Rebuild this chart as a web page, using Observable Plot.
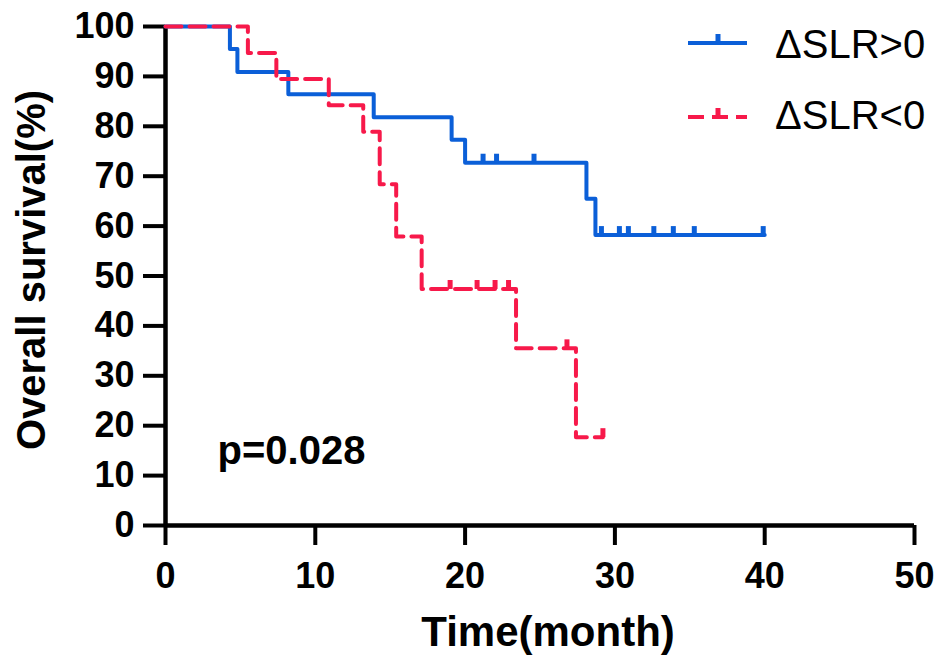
<!DOCTYPE html>
<html>
<head>
<meta charset="utf-8">
<script src="https://cdn.jsdelivr.net/npm/d3@7"></script>
<script src="https://cdn.jsdelivr.net/npm/@observablehq/plot@0.6"></script>
<style>
  html, body { margin: 0; padding: 0; background: #fff; }
  #chart { width: 945px; height: 663px; }
</style>
</head>
<body>
<div id="chart"></div>
<script>
// ---- Data ----
const xTicks = [0, 10, 20, 30, 40, 50];
const yTicks = [0, 10, 20, 30, 40, 50, 60, 70, 80, 90, 100];

const posTimes = [0, 4.3, 4.8, 8.2, 13.9, 19.1, 20.0, 28.1, 28.7, 40.0];
const posSurv  = [100, 95.5, 90.9, 86.4, 81.8, 77.3, 72.7, 65.5, 58.2, 58.2];
const posCensorTimes = [21.2, 22.1, 24.6, 29.1, 30.3, 30.9, 32.6, 33.9, 35.3, 39.9];
const posCensorSurv  = [72.7, 72.7, 72.7, 58.2, 58.2, 58.2, 58.2, 58.2, 58.2, 58.2];

const negTimes = [0, 5.5, 7.4, 10.9, 13.2, 14.3, 15.4, 17.1, 23.4, 27.4, 29.2];
const negSurv  = [100, 94.7, 89.5, 84.2, 78.9, 68.4, 57.9, 47.4, 35.5, 17.7, 17.7];
const negCensorTimes = [19.0, 20.8, 22.0, 22.9, 26.8, 29.2];
const negCensorSurv  = [47.4, 47.4, 47.4, 47.4, 35.5, 17.7];

const seriesNames = ["ΔSLR>0", "ΔSLR<0"];
const colors = ["#0b5fd8", "#f7194a"];
const pText = "p=0.028";
const xLabel = "Time(month)";
const yLabel = "Overall survival(%)";

// ---- Tables ----
const pos = posTimes.map((t, i) => ({t, s: posSurv[i]}));
const neg = negTimes.map((t, i) => ({t, s: negSurv[i]}));
const posC = posCensorTimes.map((t, i) => ({t, s: posCensorSurv[i]}));
const negC = negCensorTimes.map((t, i) => ({t, s: negCensorSurv[i]}));

const censorSymbol = {
  draw(context) { context.moveTo(0, 0); context.lineTo(0, -9); }
};

const font = "'Liberation Sans', Arial, Helvetica, sans-serif";

const plot = Plot.plot({
  width: 945,
  height: 663,
  marginLeft: 165,
  marginRight: 31,
  marginTop: 26,
  marginBottom: 138,
  x: {domain: [0, 50]},
  y: {domain: [0, 100]},
  style: {fontFamily: font, color: "black", background: "white", overflow: "visible"},
  marks: [
    Plot.axisX({ticks: xTicks, tickSize: 20, tickPadding: 17, fontSize: 36, fontWeight: "bold", strokeWidth: 4, label: null}),
    Plot.axisY({ticks: yTicks, tickSize: 22, tickPadding: 9, fontSize: 36, fontWeight: "bold", strokeWidth: 4, label: null}),
    Plot.ruleX([0], {y1: 0, y2: 100, strokeWidth: 4.5}),
    Plot.ruleY([0], {x1: 0, x2: 50, strokeWidth: 4.5}),
    Plot.line(pos, {x: "t", y: "s", curve: "step-after", stroke: colors[0], strokeWidth: 4}),
    Plot.dot(posC, {x: "t", y: "s", symbol: censorSymbol, stroke: colors[0], strokeWidth: 5, fill: "none"}),
    Plot.line(neg, {x: "t", y: "s", curve: "step-after", stroke: colors[1], strokeWidth: 4, strokeDasharray: "16,8"}),
    Plot.dot(negC, {x: "t", y: "s", symbol: censorSymbol, stroke: colors[1], strokeWidth: 5, fill: "none"}),
    Plot.text([pText], {frameAnchor: "bottom-left", dx: 52, dy: -62, text: d => d, textAnchor: "start", lineAnchor: "bottom", fontSize: 40, fontWeight: "bold", fill: "black"}),
    Plot.text([xLabel], {frameAnchor: "bottom", dx: 8, dy: 120, text: d => d, textAnchor: "middle", lineAnchor: "bottom", fontSize: 42, fontWeight: "bold", fill: "black"}),
    Plot.text([yLabel], {frameAnchor: "left", dx: -121, dy: -6, rotate: -90, text: d => d, textAnchor: "middle", lineAnchor: "bottom", fontSize: 40, fontWeight: "bold", fill: "black"})
  ]
});

document.getElementById("chart").appendChild(plot);

// ---- Legend ----
const svg = d3.select(plot);
const lg = svg.append("g").attr("font-family", font).attr("text-anchor", "start");
const rows = [
  {name: seriesNames[0], color: colors[0], dash: null, y: 43, ty: 58},
  {name: seriesNames[1], color: colors[1], dash: "16,8", y: 117, ty: 129}
];
rows.forEach(r => {
  lg.append("line").attr("x1", 688).attr("x2", 747).attr("y1", r.y).attr("y2", r.y)
    .attr("stroke", r.color).attr("stroke-width", 4)
    .attr("stroke-dasharray", r.dash);
  lg.append("line").attr("x1", 718).attr("x2", 718).attr("y1", r.y).attr("y2", r.y - 9)
    .attr("stroke", r.color).attr("stroke-width", 5);
  lg.append("text").attr("x", 775).attr("y", r.ty).attr("font-size", 40)
    .attr("text-anchor", "start").attr("fill", "black").text(r.name);
});
</script>
</body>
</html>
